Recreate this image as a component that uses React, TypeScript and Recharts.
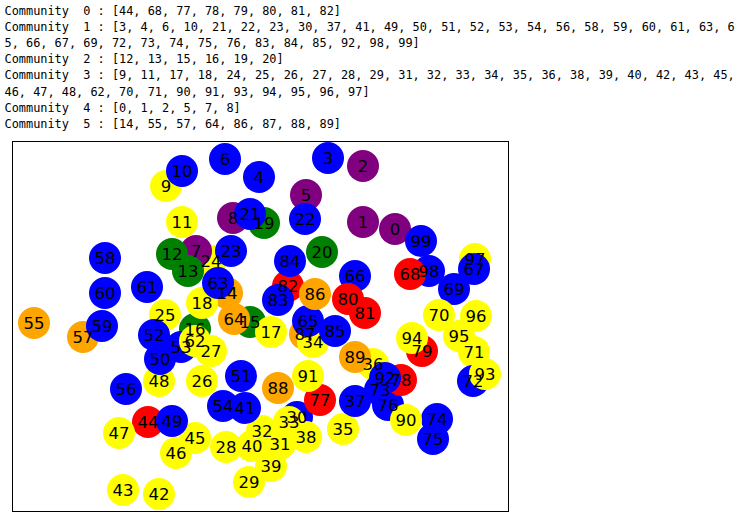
import React from "react";
import { Scatter, ScatterChart, XAxis, YAxis } from "recharts";

// Community membership (as printed above the drawing)
const communities: number[][] = [
  [44, 68, 77, 78, 79, 80, 81, 82],
  [3, 4, 6, 10, 21, 22, 23, 30, 37, 41, 49, 50, 51, 52, 53, 54, 56, 58, 59, 60, 61, 63, 65, 66, 67, 69, 72, 73, 74, 75, 76, 83, 84, 85, 92, 98, 99],
  [12, 13, 15, 16, 19, 20],
  [9, 11, 17, 18, 24, 25, 26, 27, 28, 29, 31, 32, 33, 34, 35, 36, 38, 39, 40, 42, 43, 45, 46, 47, 48, 62, 70, 71, 90, 91, 93, 94, 95, 96, 97],
  [0, 1, 2, 5, 7, 8],
  [14, 55, 57, 64, 86, 87, 88, 89],
];

const communityColors = ["#ff0000", "#0000ff", "#008000", "#ffff00", "#800080", "#ffa500"];

// layout positions of nodes 0..99 (y grows downward)
const nodeX = [
  383, 351, 351, 316, 247, 294, 213, 184, 221, 154,
  170, 170, 160, 176, 215, 238, 183, 259, 190, 252,
  310, 238, 293, 219, 199, 153, 190, 199, 214, 237,
  285, 268, 250, 277, 301, 331, 361, 343, 294, 259,
  240, 233, 147, 111, 136, 183, 164, 107, 147, 160,
  148, 229, 142, 169, 211, 22, 114, 71, 93, 90,
  93, 135, 183, 206, 222, 296, 343, 462, 398, 442,
  427, 462, 461, 368, 425, 421, 376, 308, 389, 410,
  336, 353, 276, 266, 278, 323, 303, 293, 266, 343,
  394, 296, 373, 473, 400, 447, 464, 463, 417, 409,
];
const nodeY = [
  88, 81, 25, 17, 36, 54, 18, 110, 77, 45,
  30, 81, 113, 130, 152, 181, 188, 191, 162, 82,
  111, 73, 78, 110, 120, 174, 240, 210, 306, 341,
  276, 303, 290, 281, 201, 288, 223, 260, 296, 325,
  305, 267, 353, 349, 281, 297, 312, 292, 240, 280,
  218, 235, 194, 206, 265, 182, 248, 196, 117, 185,
  152, 146, 200, 142, 178, 180, 135, 128, 133, 148,
  174, 211, 240, 249, 278, 298, 264, 259, 239, 210,
  158, 172, 145, 159, 120, 190, 153, 193, 247, 216,
  279, 235, 237, 233, 197, 195, 175, 118, 130, 100,
];

// nodes that sit underneath their neighbours
const drawnFirst = [14, 24, 36, 87, 97, 98];

const CHAR_PER_LINE = 102;

function wrapLine(s: string): string[] {
  const out: string[] = [];
  let rest = s;
  while (rest.length > CHAR_PER_LINE) {
    out.push(rest.slice(0, CHAR_PER_LINE));
    rest = rest.slice(CHAR_PER_LINE).replace(/^ /, "");
  }
  out.push(rest);
  return out;
}

const textLines = communities.flatMap((c, i) =>
  wrapLine(`Community  ${i} : [${c.join(", ")}]`)
);

const colorOf = (id: number) => {
  const ci = communities.findIndex((c) => c.includes(id));
  return communityColors[ci];
};

const ids = nodeX.map((_, i) => i);
const order = [...drawnFirst, ...ids.filter((i) => !drawnFirst.includes(i))];
const nodes = order.map((id) => ({ id, x: nodeX[id], y: nodeY[id], color: colorOf(id) }));

const W = 496;
const H = 370;

const NodeDot = (p: any) => <circle cx={p.cx} cy={p.cy} r={16} fill={p.payload.color} />;
const NodeLabel = (p: any) => (
  <text
    x={p.cx}
    y={p.cy}
    textAnchor="middle"
    dominantBaseline="central"
    fontSize={16.5}
    fontFamily="DejaVu Sans"
    fill="#000"
  >
    {p.payload.id}
  </text>
);

export default function App() {
  return (
    <div style={{ position: "absolute", left: 0, top: 0, width: 742, height: 520, background: "#fff" }}>
      <div
        style={{
          position: "absolute",
          left: 4.5,
          top: 2.5,
          fontFamily: "'DejaVu Sans Mono', monospace",
          fontSize: 11.9,
          lineHeight: "16.2px",
          whiteSpace: "pre",
          color: "#000",
        }}
      >
        {textLines.map((l, i) => (
          <div key={i}>{l}</div>
        ))}
      </div>
      <div
        style={{
          position: "absolute",
          left: 12,
          top: 141,
          width: W + 1,
          height: H + 1,
          border: "1px solid #000",
          boxSizing: "border-box",
        }}
      />
      <div style={{ position: "absolute", left: 12, top: 141 }}>
        <ScatterChart width={W} height={H} margin={{ top: 0, right: 0, bottom: 0, left: 0 }}>
          <XAxis type="number" dataKey="x" domain={[0, W]} hide />
          <YAxis type="number" dataKey="y" domain={[0, H]} reversed hide />
          <Scatter data={nodes} shape={NodeDot} isAnimationActive={false} />
          <Scatter data={nodes} shape={NodeLabel} isAnimationActive={false} />
        </ScatterChart>
      </div>
    </div>
  );
}
